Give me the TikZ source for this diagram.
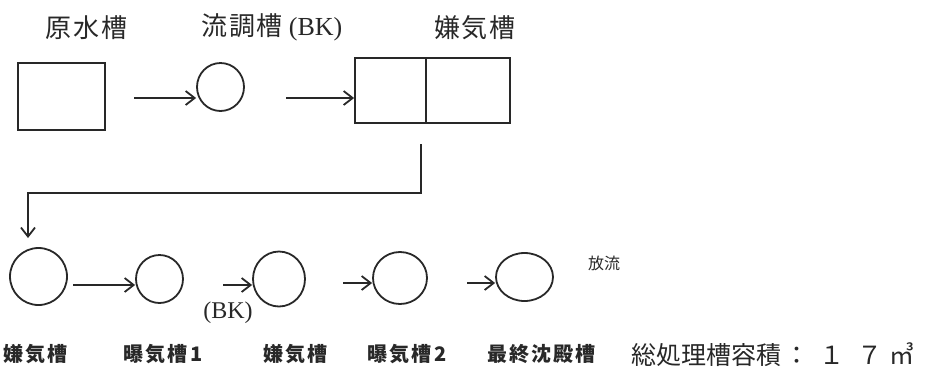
\documentclass[tikz,border=0pt]{standalone}
\usepackage{fontspec}
\setmainfont{Liberation Serif}
\newfontfamily\cjk{Noto Sans CJK JP}
\newfontfamily\cjkt[LetterSpace=6]{Noto Sans CJK JP}
\newfontfamily\cjkb[LetterSpace=10]{Noto Sans CJK JP}
\usetikzlibrary{arrows.meta,shapes.geometric}
\definecolor{ink}{RGB}{40,40,40}
\begin{document}
\begin{tikzpicture}[x=1pt,y=-1pt,
  every node/.style={text=ink},
  boxst/.style={draw=ink, line width=1.8pt, inner sep=0pt},
  tank/.style={ellipse, draw=ink, line width=1.8pt, inner sep=0pt},
  arr/.style={draw=ink, line width=1.8pt, -{Straight Barb[length=9pt,width=14pt,line width=1.8pt]}},
  toplab/.style={font=\fontsize{26}{30}\selectfont\cjkt, inner sep=0pt},
  botlab/.style={font=\fontsize{20}{23}\selectfont\cjkb\bfseries, inner sep=0pt},
  ]
\useasboundingbox[fill=white] (0,0) rectangle (929,368);

% top labels
\node[toplab] (t1) at (86.5,27.5) {原水槽};
\node[toplab] (t2) at (272,27.5) {流調槽\hspace{6pt}\rmfamily(BK)};
\node[toplab] (t3) at (475,27.5) {嫌気槽};

% top row shapes
\node[boxst, minimum width=87pt, minimum height=67pt] (b1) at (61.5,96.5) {};
\node[tank, minimum width=47pt, minimum height=48pt] (cA) at (220.5,87) {};
\node[boxst, minimum width=155pt, minimum height=65pt] (b2) at (432.5,90.5) {};
\draw[draw=ink, line width=1.8pt] ([xshift=-6.5pt]b2.north) -- ([xshift=-6.5pt]b2.south);

\coordinate (s1) at (134,98);
\draw[arr] (s1) -- (s1 -| cA.west);
\coordinate (s2) at (286,98);
\draw[arr] (s2) -- (s2 -| b2.west);

% connector to lower row
\coordinate (k0) at (421,144);
\coordinate (k1) at (28,238);
\draw[arr] (k0) -- ++(0,49) -| (k1);

% bottom row
\node[tank, minimum width=57pt, minimum height=57pt] (c1) at (38.5,276.5) {};
\node[tank, minimum width=47pt, minimum height=48pt] (c2) at (159.5,279) {};
\node[tank, minimum width=52pt, minimum height=55pt] (c3) at (279,279) {};
\node[tank, minimum width=54pt, minimum height=52pt] (c4) at (400,278) {};
\node[tank, minimum width=57pt, minimum height=48pt] (c5) at (524.5,277) {};

\coordinate (s3) at (73,285);
\draw[arr] (s3) -- (s3 -| c2.west);
\coordinate (s4) at (223,285);
\draw[arr] (s4) -- (s4 -| c3.west);
\coordinate (s5) at (343,283);
\draw[arr] (s5) -- (s5 -| c4.west);
\coordinate (s6) at (467,283);
\draw[arr] (s6) -- (s6 -| c5.west);

\node[font=\fontsize{24}{26}\selectfont, inner sep=0pt] (bk) at (228,313) {(BK)};
\node[font=\fontsize{16}{18}\selectfont\cjk, inner sep=0pt] (out) at (604,263) {放流};

% bottom labels
\node[botlab] (l1) at (36,354) {嫌気槽};
\node[botlab] (l2) at (163,354) {曝気槽\hspace{3pt}1};
\node[botlab] (l3) at (295.5,354) {嫌気槽};
\node[botlab] (l4) at (407.5,354) {曝気槽\hspace{3pt}2};
\node[botlab] (l5) at (541,354) {最終沈殿槽};

\node[anchor=west, inner sep=0pt, font=\fontsize{25}{28}\selectfont\cjk] (tot) at (631,355)
  {総処理槽容積\hspace{3pt}：\hspace{10pt}１\hspace{13.5pt}７\hspace{6.5pt}㎥};
\end{tikzpicture}
\end{document}
